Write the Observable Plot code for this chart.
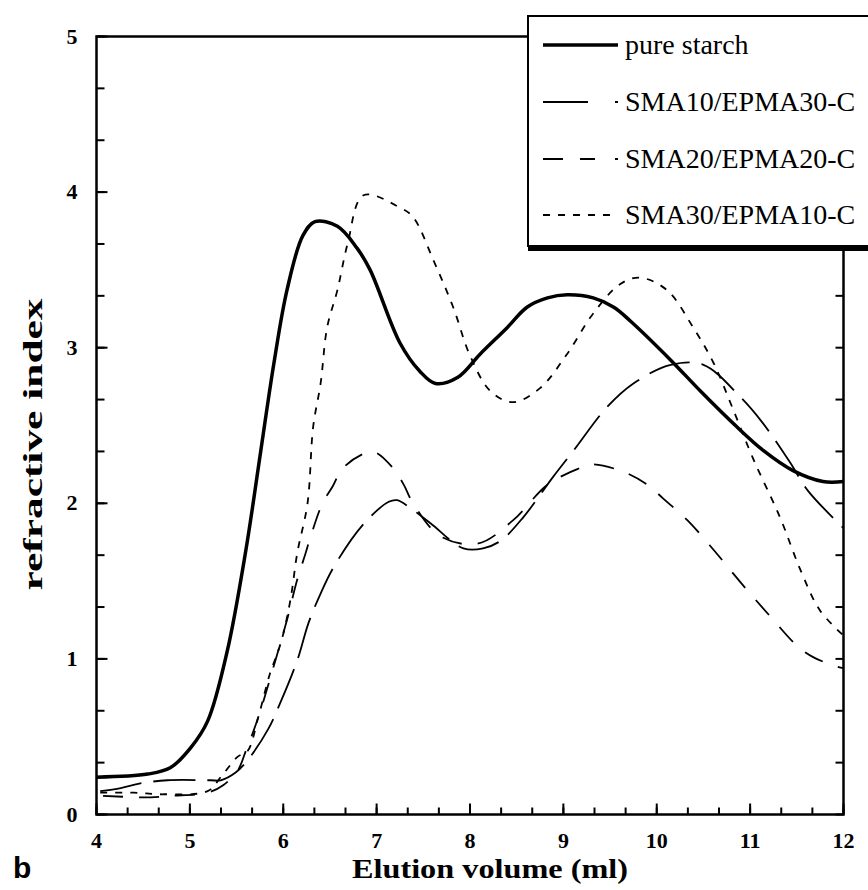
<!DOCTYPE html>
<html>
<head>
<meta charset="utf-8">
<script src="https://cdn.jsdelivr.net/npm/d3@7"></script>
<script src="https://cdn.jsdelivr.net/npm/@observablehq/plot@0.6"></script>
<style>
  html, body { margin: 0; padding: 0; background: #fff; overflow: hidden; }
  #wrap { position: relative; width: 868px; height: 890px; overflow: hidden; }
  #chart { position: absolute; left: 0; top: 0; }
  #legend {
    position: absolute; left: 527px; top: 15px; width: 380px; height: 228px;
    background: #fff; border: 2px solid #000; box-shadow: 1px 4px 0 #000;
    font-family: "Liberation Serif", serif; font-size: 28px; color: #000;
  }
  #legend svg { position: absolute; left: 0; top: 0; }
  #panel { position: absolute; left: 13px; top: 851px; font-family: "Liberation Sans", sans-serif; font-weight: bold; font-size: 30px; }
</style>
</head>
<body>
<div id="wrap">
  <div id="chart"></div>
  <div id="legend"></div>
  <div id="panel">b</div>
</div>
<script>
// ---- data ----
const seriesNames = ["pure starch", "SMA10/EPMA30-C", "SMA20/EPMA20-C", "SMA30/EPMA10-C"];

const starchX = [4.0, 4.55, 4.79, 5.01, 5.19, 5.40, 5.60, 5.76, 5.90, 6.04, 6.21, 6.34, 6.58, 6.79, 6.93, 7.25, 7.46, 7.63, 7.87, 8.11, 8.40, 8.61, 8.83, 9.04, 9.32, 9.54, 9.72, 10.15, 10.47, 10.86, 11.14, 11.46, 11.78, 12.0];
const starchY = [0.24, 0.26, 0.30, 0.43, 0.60, 1.05, 1.70, 2.34, 2.90, 3.37, 3.72, 3.81, 3.78, 3.64, 3.50, 3.03, 2.85, 2.77, 2.81, 2.96, 3.13, 3.26, 3.32, 3.34, 3.32, 3.26, 3.17, 2.92, 2.72, 2.49, 2.34, 2.21, 2.14, 2.14];

const sma10X = [4.04, 4.26, 4.47, 4.76, 5.22, 5.33, 5.49, 5.62, 5.84, 5.97, 6.15, 6.27, 6.40, 6.54, 6.85, 7.13, 7.22, 7.36, 7.58, 7.93, 8.14, 8.33, 8.57, 8.89, 9.11, 9.47, 9.75, 10.15, 10.50, 10.90, 11.13, 11.43, 11.62, 12.0];
const sma10Y = [0.15, 0.17, 0.20, 0.22, 0.22, 0.22, 0.27, 0.35, 0.55, 0.72, 0.99, 1.23, 1.42, 1.59, 1.86, 2.01, 2.02, 1.97, 1.87, 1.71, 1.71, 1.76, 1.91, 2.17, 2.34, 2.62, 2.77, 2.89, 2.89, 2.68, 2.52, 2.26, 2.08, 1.84];

const sma20X = [4.07, 4.58, 4.79, 5.19, 5.36, 5.51, 5.60, 5.73, 5.94, 6.04, 6.15, 6.24, 6.29, 6.42, 6.53, 6.63, 6.83, 6.97, 7.17, 7.29, 7.39, 7.68, 8.08, 8.46, 8.83, 9.15, 9.29, 9.61, 9.90, 10.07, 10.33, 10.61, 10.90, 11.22, 11.51, 11.68, 11.93, 12.0];
const sma20Y = [0.12, 0.11, 0.12, 0.14, 0.19, 0.28, 0.41, 0.62, 1.04, 1.25, 1.51, 1.68, 1.78, 2.00, 2.11, 2.22, 2.31, 2.33, 2.23, 2.12, 2.00, 1.79, 1.74, 1.89, 2.12, 2.22, 2.25, 2.21, 2.12, 2.03, 1.89, 1.70, 1.49, 1.27, 1.08, 1.01, 0.95, 0.94];

const sma30X = [4.04, 4.40, 4.72, 5.19, 5.33, 5.51, 5.62, 5.73, 5.86, 5.94, 6.00, 6.08, 6.15, 6.26, 6.32, 6.40, 6.47, 6.58, 6.69, 6.86, 7.25, 7.39, 7.61, 7.82, 8.00, 8.22, 8.46, 8.75, 9.04, 9.32, 9.61, 9.82, 10.11, 10.39, 10.61, 10.82, 11.03, 11.32, 11.54, 11.75, 12.0];
const sma30Y = [0.14, 0.14, 0.13, 0.15, 0.24, 0.37, 0.41, 0.62, 0.91, 1.04, 1.16, 1.39, 1.68, 2.00, 2.49, 2.77, 3.13, 3.37, 3.67, 3.98, 3.90, 3.84, 3.56, 3.26, 2.95, 2.72, 2.65, 2.74, 2.96, 3.22, 3.41, 3.45, 3.37, 3.13, 2.90, 2.60, 2.29, 1.91, 1.57, 1.31, 1.15];

const xTickLabels = [4, 5, 6, 7, 8, 9, 10, 11, 12];
const yTickLabels = [0, 1, 2, 3, 4, 5];
const xLabel = "Elution volume (ml)";
const yLabel = "refractive index";

// ---- styles ----
const styles = {
  "pure starch":    {width: 3.5, dash: null},
  "SMA10/EPMA30-C": {width: 1.8, dash: "42,12"},
  "SMA20/EPMA20-C": {width: 1.8, dash: "20,16"},
  "SMA30/EPMA10-C": {width: 1.8, dash: "7,8"}
};

const xs = [starchX, sma10X, sma20X, sma30X];
const ys = [starchY, sma10Y, sma20Y, sma30Y];
const rows = seriesNames.flatMap((name, k) => xs[k].map((x, i) => ({series: name, x, y: ys[k][i]})));

const xDomain = [4, 12], yDomain = [0, 5];
const xMinor = d3.range(0, 25).map(i => 4 + i / 3);
const yMinor = d3.range(0, 16).map(i => i / 3);

const W = 868, H = 890, mL = 96, mR = 25, mT = 36, mB = 76;
const frameW = W - mL - mR, frameH = H - mT - mB;
const serif = "Liberation Serif";

// tick lengths in pixels, converted to data units of the scales
const pxToY = px => px * (yDomain[1] - yDomain[0]) / frameH;
const pxToX = px => px * (xDomain[1] - xDomain[0]) / frameW;

const tickSegs = [
  ...xMinor.map(v => ({x1: v, x2: v, y1: yDomain[0], y2: yDomain[0] + pxToY(7)})),
  ...xTickLabels.map(v => ({x1: v, x2: v, y1: yDomain[0], y2: yDomain[0] + pxToY(11)})),
  ...yMinor.map(v => ({x1: xDomain[0], x2: xDomain[0] + pxToX(8), y1: v, y2: v})),
  ...yTickLabels.map(v => ({x1: xDomain[0], x2: xDomain[0] + pxToX(11), y1: v, y2: v})),
  ...yMinor.map(v => ({x1: xDomain[1] - pxToX(8), x2: xDomain[1], y1: v, y2: v}))
];

const lines = seriesNames.map(name => Plot.line(rows.filter(d => d.series === name), {
  x: "x", y: "y", curve: "catmull-rom", stroke: "#000",
  strokeWidth: styles[name].width, strokeDasharray: styles[name].dash,
  strokeLinecap: "butt", strokeLinejoin: "round"
}));

const chart = Plot.plot({
  width: W, height: H,
  marginLeft: mL, marginRight: mR, marginTop: mT, marginBottom: mB,
  style: {fontFamily: serif, background: "#fff", color: "#000"},
  x: {domain: xDomain},
  y: {domain: yDomain},
  marks: [
    ...lines,
    Plot.axisX(xTickLabels, {tickSize: 0, tickPadding: 18, tickFormat: d => String(d), fontSize: 22, fontWeight: "bold", label: null}),
    Plot.axisY(yTickLabels, {tickSize: 0, tickPadding: 19, tickFormat: d => String(d), fontSize: 22, fontWeight: "bold", label: null}),
    Plot.frame({strokeWidth: 2.5}),
    Plot.text([xLabel], {frameAnchor: "bottom", dx: 20, dy: 63, fontSize: 28, fontWeight: "bold", className: "xlab"}),
    Plot.text([yLabel], {frameAnchor: "left", dx: -63, dy: 165, rotate: -90, textAnchor: "start", fontSize: 28, fontWeight: "bold", className: "ylab"}),
    Plot.link(tickSegs, {x1: "x1", y1: "y1", x2: "x2", y2: "y2", stroke: "#000", strokeWidth: 2})
  ]
});
document.getElementById("chart").appendChild(chart);
d3.select(chart).selectAll(".xlab text").attr("textLength", 276).attr("lengthAdjust", "spacingAndGlyphs");
d3.select(chart).selectAll(".ylab text").attr("textLength", 292).attr("lengthAdjust", "spacingAndGlyphs");

// ---- legend ----
const legendDash = {
  "pure starch": null,
  "SMA10/EPMA30-C": "45,27,3,100",
  "SMA20/EPMA20-C": "20,17,15,20,3,100",
  "SMA30/EPMA10-C": "7,8"
};
const rowY = [28, 85, 142, 198];
const lsvg = d3.select("#legend").append("svg").attr("width", 380).attr("height", 228);
seriesNames.forEach((name, i) => {
  lsvg.append("line").attr("x1", 14).attr("x2", 89).attr("y1", rowY[i]).attr("y2", rowY[i])
    .attr("stroke", "#000").attr("stroke-width", styles[name].width)
    .attr("stroke-dasharray", legendDash[name]);
  lsvg.append("text").attr("x", 96).attr("y", rowY[i] + 9).text(name)
    .attr("font-family", serif).attr("font-size", 28);
});
</script>
</body>
</html>
